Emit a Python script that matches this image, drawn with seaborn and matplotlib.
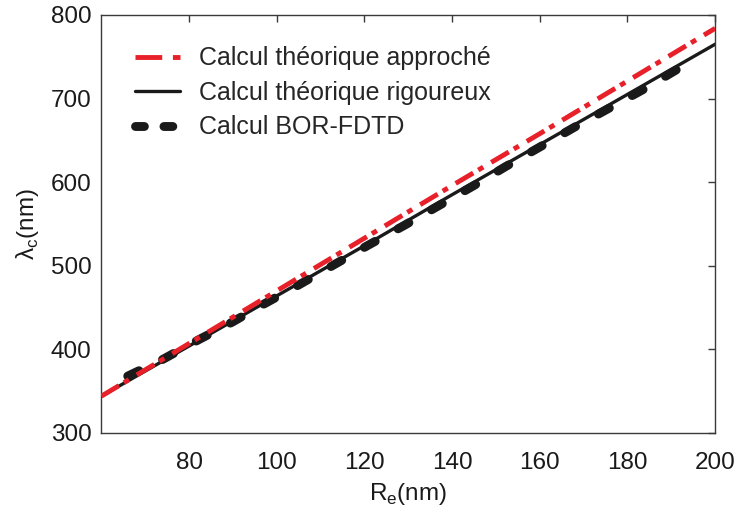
import matplotlib
matplotlib.use("Agg")
import matplotlib.pyplot as plt
from matplotlib.lines import Line2D
import seaborn as sns
import pandas as pd

# ---- data ----
R_theorie = [60, 80, 100, 120, 140, 160, 180, 200]
lambda_approche = [344, 407, 470, 533, 596, 658, 721, 784]
lambda_rigoureux = [344, 404, 464, 524, 585, 645, 705, 765]

R_fdtd = [66, 74, 82, 90, 97, 105, 113, 121, 129, 137, 145, 152, 160, 168, 176, 184, 192]
lambda_fdtd = [368, 388, 411, 433, 454, 477, 501, 525, 548, 572, 596, 618, 642, 666, 689, 712, 737]

x_ticks = [80, 100, 120, 140, 160, 180, 200]
y_ticks = [300, 400, 500, 600, 700, 800]

labels = ["Calcul théorique approché", "Calcul théorique rigoureux", "Calcul BOR-FDTD"]

sns.set_theme(style="white")
plt.rcParams["font.family"] = ["Liberation Sans", "DejaVu Sans"]
plt.rcParams["mathtext.fontset"] = "custom"
plt.rcParams["mathtext.rm"] = "Liberation Sans"

df_th = pd.DataFrame({"R": R_theorie, "approche": lambda_approche, "rigoureux": lambda_rigoureux})
df_fd = pd.DataFrame({"R": R_fdtd, "fdtd": lambda_fdtd})

fig, ax = plt.subplots(figsize=(7.35, 5.16), dpi=100)
fig.subplots_adjust(left=0.138, right=0.973, top=0.971, bottom=0.161)

RED = "#e8202a"
BLK = "#1a1a1a"

sns.lineplot(data=df_th, x="R", y="rigoureux", ax=ax, color=BLK, linewidth=2.4,
             zorder=2, legend=False)
sns.lineplot(data=df_fd, x="R", y="fdtd", ax=ax, color=BLK, linewidth=6.4,
             linestyle=(0, (1.4, 2.93)), dash_capstyle="round", zorder=3, legend=False)
sns.lineplot(data=df_th, x="R", y="approche", ax=ax, color=RED, linewidth=3.5,
             linestyle=(0, (4.2, 1.2, 1.2, 1.9)), dash_capstyle="butt", zorder=4, legend=False)

ax.set_xlim(60, 200)
ax.set_ylim(300, 800)
ax.set_xticks(x_ticks)
ax.set_yticks(y_ticks)

for s in ax.spines.values():
    s.set_visible(True)
    s.set_color("#3a3a3a")
    s.set_linewidth(1.0)

ax.tick_params(axis="both", which="major", direction="in", length=5, width=1,
               color="#3a3a3a", top=True, right=True, labelsize=17.5, labelcolor="#1a1a1a")
ax.tick_params(axis="x", pad=14)
ax.tick_params(axis="y", pad=7)

ax.set_xlabel(r"R$_\mathregular{e}$(nm)", fontsize=17.5, color="#1a1a1a", labelpad=5)
ax.set_ylabel(r"λ$_\mathregular{c}$(nm)", fontsize=17.5, color="#1a1a1a", labelpad=7)

handles = [
    Line2D([], [], color=RED, linewidth=3.5, linestyle=(0, (5.5, 2.2, 1.8, 2.0)), dash_capstyle="butt"),
    Line2D([], [], color=BLK, linewidth=2.4),
    Line2D([], [], color=BLK, linewidth=6.4, linestyle=(0, (1.0, 2.2)), dash_capstyle="round"),
]
ax.legend(handles, labels, loc="upper left", bbox_to_anchor=(0.055, 0.925), frameon=False,
          fontsize=18, handlelength=1.8, handletextpad=0.75, labelspacing=0.42,
          borderpad=0, borderaxespad=0)

fig.savefig("out.png", dpi=100)
